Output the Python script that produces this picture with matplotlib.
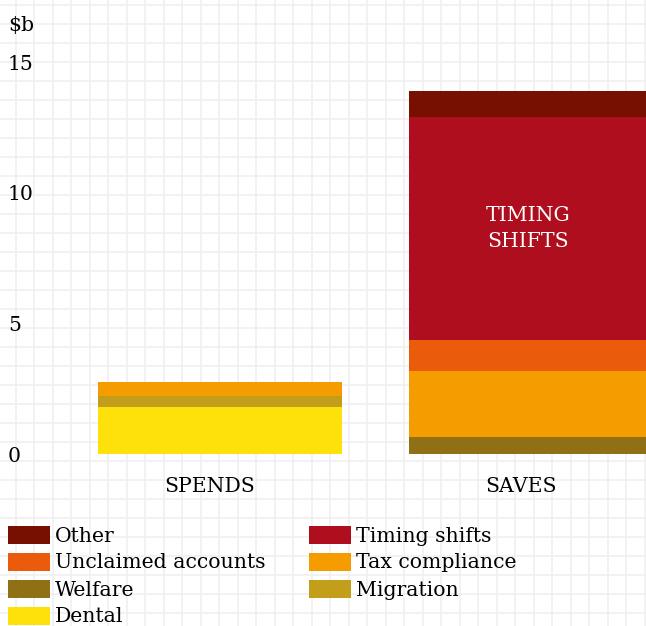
import matplotlib.pyplot as plt
import numpy as np
from matplotlib.patches import Rectangle
from matplotlib.transforms import offset_copy

## Data
categories = ["SPENDS", "SAVES"]
series = ["Dental", "Migration", "Welfare", "Tax compliance",
          "Unclaimed accounts", "Timing shifts", "Other"]
spends = [1.81, 0.41, 0.0, 0.54, 0.0, 0.0, 0.0]
saves = [0.0, 0.0, 0.65, 2.54, 1.18, 8.55, 0.98]
colors = ["#fee00b", "#c39e1a", "#8f7015", "#f59c00",
          "#ea5b0c", "#ae0e1e", "#771000"]
yticks = [0, 5, 10, 15]
unit_label = "$b"

### Style
W, H = 646, 626
font = "DejaVu Serif"
fs = 14.7
plt.rcParams["font.family"] = font

fig = plt.figure(figsize=(W / 100, H / 100), dpi=100)

# graph-paper background, in pixel coordinates
bg = fig.add_axes([0, 0, 1, 1])
bg.set_xlim(0, W)
bg.set_ylim(H, 0)
bg.axis("off")
bg.vlines(np.arange(15.7, W, 18.5), 0, H, color="#efefef", lw=1.1, zorder=0)
bg.hlines(np.arange(5, H, 19.0), 0, W, color="#efefef", lw=1.1, zorder=0)

# main axes: zero at 454 px from top, 26.1 px per $b
zero_px, px_per_unit = 454, 26.1
ax = fig.add_axes([0, 0, 1, 1])
ax.patch.set_alpha(0)
ax.axis("off")
ax.set_ylim(-(H - zero_px) / px_per_unit, zero_px / px_per_unit)
ax.set_xlim(-220 / 311, 1 + (W - 531) / 311)

x = np.arange(len(categories))
bottoms = np.zeros(len(categories))
for name, a, b, c in zip(series, spends, saves, colors):
    vals = np.array([a, b])
    ax.bar(x, vals, width=0.785, bottom=bottoms, color=c, linewidth=0)
    bottoms += vals

# label inside the timing shifts segment
t_idx = series.index("Timing shifts")
t_mid = sum(saves[:t_idx]) + saves[t_idx] / 2
ax.text(1 - 0.01, t_mid, "TIMING\nSHIFTS", color="white", ha="center",
        va="center", fontsize=fs, linespacing=1.5)

# y tick labels at the left edge, nudged down a couple of pixels
ytrans = offset_copy(ax.get_yaxis_transform(), fig=fig, x=0, y=-2,
                     units="dots")
for v in yticks:
    ax.text(8 / W, v, str(v), transform=ytrans, ha="left", va="center",
            fontsize=fs)
ax.text(8 / W, (zero_px - 24) / px_per_unit, unit_label, transform=ytrans,
        ha="left", va="center", fontsize=fs)

# category labels
lab_trans = offset_copy(ax.transData, fig=fig, x=-10, y=0, units="dots")
for i, cat in enumerate(categories):
    ax.text(i, -(486 - zero_px) / px_per_unit, cat, transform=lab_trans,
            ha="center", va="center", fontsize=fs)

# legend in two columns, reversed stack order
order = list(range(len(series)))[::-1]
for k, idx in enumerate(order):
    col, row = k % 2, k // 2
    x0 = 8 if col == 0 else 309
    yc = 535 + row * 27
    bg.add_patch(Rectangle((x0, yc - 9), 42, 18, color=colors[idx], lw=0,
                           zorder=3))
    bg.text(x0 + 47, yc + 1, series[idx], ha="left", va="center",
            fontsize=fs, zorder=3)

fig.savefig("out.png", dpi=100)
